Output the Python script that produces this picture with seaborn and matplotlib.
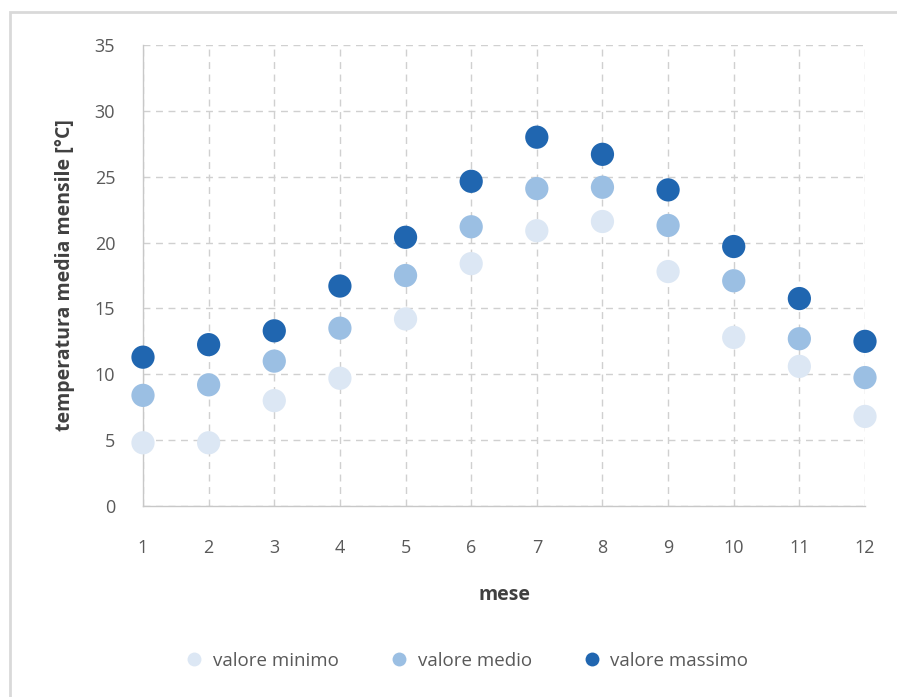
import matplotlib
matplotlib.use("Agg")
import matplotlib.pyplot as plt
import seaborn as sns
import pandas as pd
from matplotlib.patches import Rectangle

mesi = [1, 2, 3, 4, 5, 6, 7, 8, 9, 10, 11, 12]
valore_minimo = [4.8, 4.8, 8.0, 9.7, 14.2, 18.4, 20.9, 21.6, 17.8, 12.8, 10.6, 6.8]
valore_medio = [8.4, 9.2, 11.0, 13.5, 17.5, 21.2, 24.1, 24.2, 21.3, 17.1, 12.7, 9.75]
valore_massimo = [11.3, 12.25, 13.3, 16.7, 20.4, 24.65, 28.0, 26.7, 24.0, 19.7, 15.75, 12.5]
serie = ["valore minimo", "valore medio", "valore massimo"]
colori = ["#DCE7F4", "#9BBFE3", "#2066B0"]

df = pd.concat([
    pd.DataFrame({"mese": mesi, "temp": v, "serie": s})
    for s, v in zip(serie, [valore_minimo, valore_medio, valore_massimo])
])

sns.set_style("white")
plt.rcParams['font.family'] = ['Open Sans', 'DejaVu Sans']

fig = plt.figure(figsize=(8.97, 6.97), dpi=100)
fig.patch.set_facecolor("white")
# outer frame
fig.patches.append(Rectangle((10/897, -0.01), 1.0, 1 - 12/697 + 0.01, transform=fig.transFigure,
                             fill=False, edgecolor="#D9D9D9", linewidth=2.0))

ax = fig.add_axes([143/897, 1 - 506/697, (865 - 143)/897, (506 - 45)/697])
sns.scatterplot(data=df, x="mese", y="temp", hue="serie", hue_order=serie,
                palette=colori, s=280, edgecolor="none", ax=ax, legend=False, zorder=3)

ax.set_xlim(1, 12)
ax.set_ylim(0, 35)
ax.set_xticks(mesi)
ax.set_yticks(range(0, 36, 5))
ax.grid(True, linestyle=(0, (5, 4)), color="#D0D0D0", linewidth=1.0)
for side in ["top", "right"]:
    ax.spines[side].set_visible(False)
for side in ["left", "bottom"]:
    ax.spines[side].set_color("#C8C8C8")
    ax.spines[side].set_linewidth(1.0)
ax.tick_params(axis="both", length=0, labelsize=13, labelcolor="#595959")
ax.tick_params(axis="x", pad=24)
ax.tick_params(axis="y", pad=20)
for c in ax.collections:
    c.set_clip_on(False)

ax.set_xlabel("mese", fontsize=14, fontweight="bold", color="#404040", labelpad=20)
ax.set_ylabel("temperatura media mensile [°C]", fontsize=14, fontweight="bold", color="#404040", labelpad=14)

handles = [plt.Line2D([], [], marker="o", linestyle="none", markersize=10,
                      markerfacecolor=c, markeredgecolor="none") for c in colori]
fig.legend(handles, serie, loc="center", bbox_to_anchor=(462/897, 1 - 661/697), ncol=3,
           frameon=False, fontsize=13.5, labelcolor="#595959", handletextpad=0.0,
           columnspacing=2.2)

fig.savefig("out.png", dpi=100, facecolor="white")
